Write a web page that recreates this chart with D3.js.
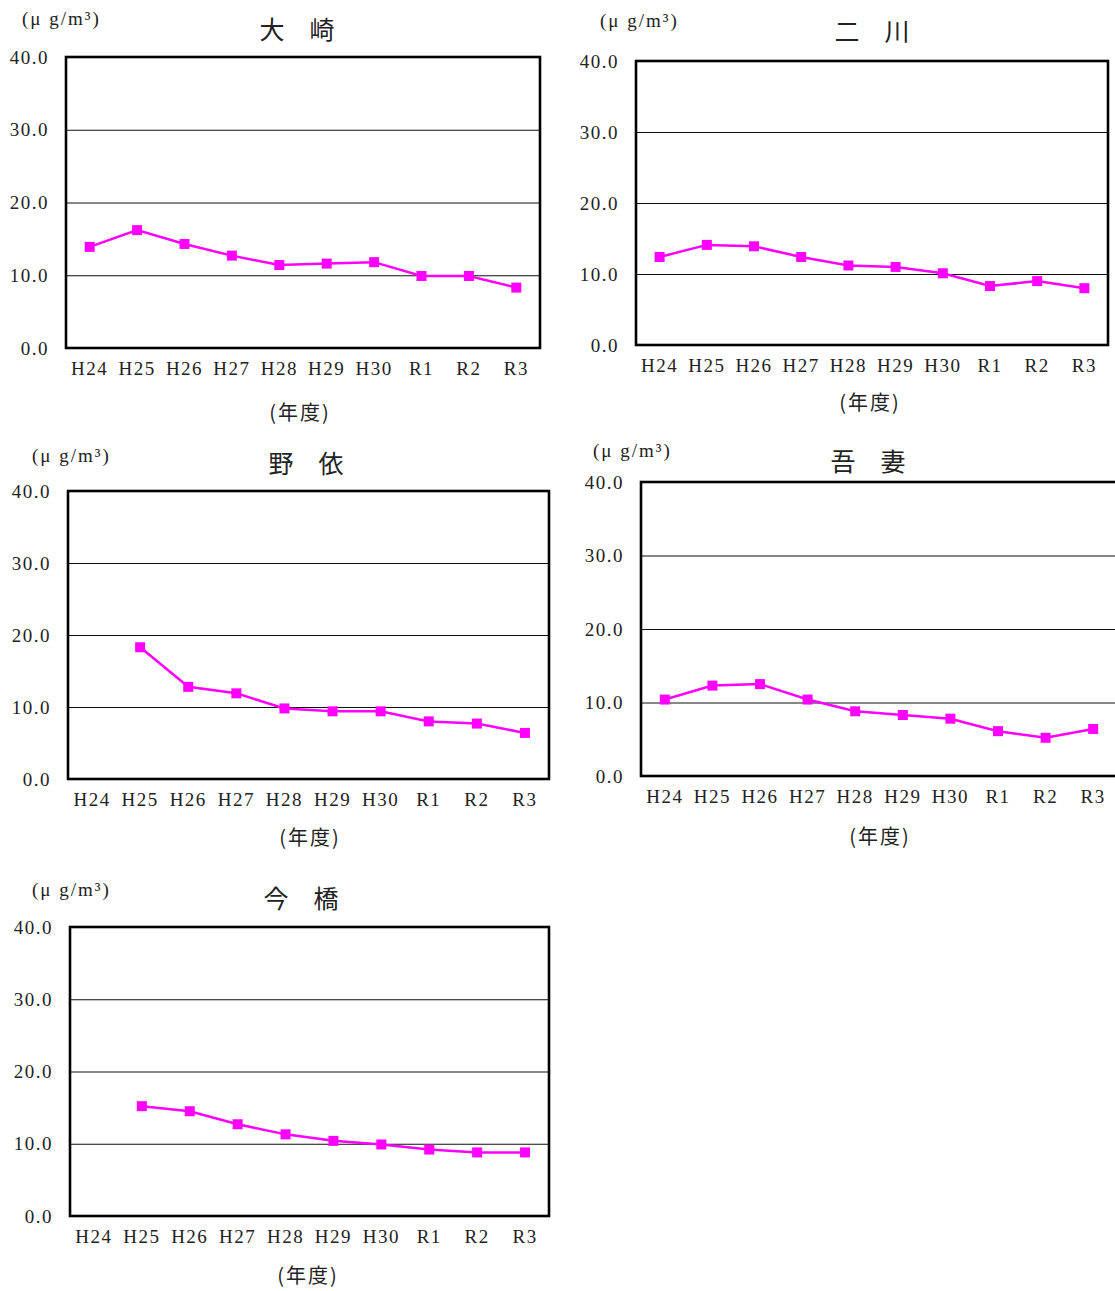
<!DOCTYPE html>
<html>
<head>
<meta charset="utf-8">
<script src="https://cdn.jsdelivr.net/npm/d3@7"></script>
<style>
  body { margin: 0; background: #fff; }
  .tick text { font-family: "Liberation Serif", "DejaVu Serif", serif; font-size: 19px; fill: #222; letter-spacing: 1.5px; }
  .title { font-family: "Noto Sans CJK JP", sans-serif; font-size: 25px; fill: #222; }
  .nendo { font-family: "Noto Sans CJK JP", sans-serif; font-size: 20px; fill: #222; letter-spacing: 2px; }
  .unit { font-family: "Liberation Serif", serif; font-size: 19px; fill: #222; letter-spacing: 2px; }
</style>
</head>
<body>
<script>
// Data
const years = ['H24', 'H25', 'H26', 'H27', 'H28', 'H29', 'H30', 'R1', 'R2', 'R3'];
const yTicks = [0, 10, 20, 30, 40];
const stations = ['大　崎', '二　川', '野　依', '吾　妻', '今　橋'];

const oosaki = [13.9, 16.2, 14.3, 12.7, 11.4, 11.6, 11.8, 9.9, 9.9, 8.3];
const futagawa = [12.4, 14.1, 13.9, 12.4, 11.2, 11.0, 10.1, 8.3, 9.0, 8.0];
const noyori = [null, 18.3, 12.8, 11.9, 9.8, 9.4, 9.4, 8.0, 7.7, 6.4];
const agatsuma = [10.4, 12.3, 12.5, 10.4, 8.8, 8.3, 7.8, 6.1, 5.2, 6.4];
const imahashi = [null, 15.2, 14.5, 12.7, 11.3, 10.4, 9.9, 9.2, 8.8, 8.8];

const series = [oosaki, futagawa, noyori, agatsuma, imahashi];

// Panel layout (pixels)
const layout = [
  { x0: 66, x1: 540, y0: 57, y1: 348, tx: 297, ty: 28, ux: 22, uy: 18, nx: 300, ny: 411 },
  { x0: 636, x1: 1108, y0: 61, y1: 345, tx: 872, ty: 30, ux: 600, uy: 20, nx: 870, ny: 401 },
  { x0: 68, x1: 549, y0: 491, y1: 779, tx: 306, ty: 462, ux: 32, uy: 455, nx: 310, ny: 836 },
  { x0: 641, x1: 1117, y0: 482, y1: 776, tx: 868, ty: 460, ux: 593, uy: 450, nx: 880, ny: 835 },
  { x0: 70, x1: 549, y0: 927, y1: 1216, tx: 301, ty: 897, ux: 32, uy: 889, nx: 308, ny: 1274 }
];

const w = 1115;
const h = 1291;

const svg = d3
  .select('body')
  .append('svg')
  .attr('width', w)
  .attr('height', h);

layout.forEach((p, i) => {
  const values = series[i];
  const pw = p.x1 - p.x0;
  const ph = p.y1 - p.y0;

  const xScale = d3
    .scaleBand()
    .domain(years)
    .range([0, pw]);

  const yScale = d3
    .scaleLinear()
    .domain([0, 40])
    .range([ph, 0]);

  const g = svg
    .append('g')
    .attr('transform', 'translate(' + p.x0 + ',' + p.y0 + ')');

  // Gridlines
  g.append('g')
    .attr('class', 'grid')
    .call(
      d3.axisLeft(yScale)
        .tickValues(yTicks)
        .tickSize(-pw)
        .tickFormat('')
    )
    .call(s => s.select('.domain').remove())
    .call(s => s.selectAll('line').attr('stroke', '#111').attr('stroke-width', 1.2));

  // Y axis labels
  g.append('g')
    .call(
      d3.axisLeft(yScale)
        .tickValues(yTicks)
        .tickSize(0)
        .tickPadding(17)
        .tickFormat(d3.format('.1f'))
    )
    .call(s => s.select('.domain').remove());

  // X axis labels
  g.append('g')
    .attr('transform', 'translate(0,' + ph + ')')
    .call(
      d3.axisBottom(xScale)
        .tickSize(0)
        .tickPadding(14)
    )
    .call(s => s.select('.domain').remove());

  // Frame
  g.append('rect')
    .attr('width', pw)
    .attr('height', ph)
    .attr('fill', 'none')
    .attr('stroke', '#000')
    .attr('stroke-width', 2.6);

  const pts = years.map((y, j) => ({ year: y, value: values[j] }));
  const cx = d => xScale(d.year) + xScale.bandwidth() / 2;

  const line = d3
    .line()
    .defined(d => d.value !== null)
    .x(cx)
    .y(d => yScale(d.value));

  g.append('path')
    .datum(pts)
    .attr('fill', 'none')
    .attr('stroke', '#ff00ff')
    .attr('stroke-width', 2.5)
    .attr('d', line);

  g.selectAll('rect.mark')
    .data(pts.filter(d => d.value !== null))
    .enter()
    .append('rect')
    .attr('class', 'mark')
    .attr('x', d => cx(d) - 5)
    .attr('y', d => yScale(d.value) - 5)
    .attr('width', 10)
    .attr('height', 10)
    .attr('fill', '#ff00ff');

  // Titles and labels
  svg.append('text')
    .attr('class', 'title')
    .attr('x', p.tx)
    .attr('y', p.ty)
    .attr('text-anchor', 'middle')
    .attr('dominant-baseline', 'central')
    .text(stations[i]);

  svg.append('text')
    .attr('class', 'unit')
    .attr('x', p.ux)
    .attr('y', p.uy)
    .attr('dominant-baseline', 'central')
    .text('(μ g/m³)');

  svg.append('text')
    .attr('class', 'nendo')
    .attr('x', p.nx)
    .attr('y', p.ny)
    .attr('text-anchor', 'middle')
    .attr('dominant-baseline', 'central')
    .text('(年度)');
});
</script>
</body>
</html>
